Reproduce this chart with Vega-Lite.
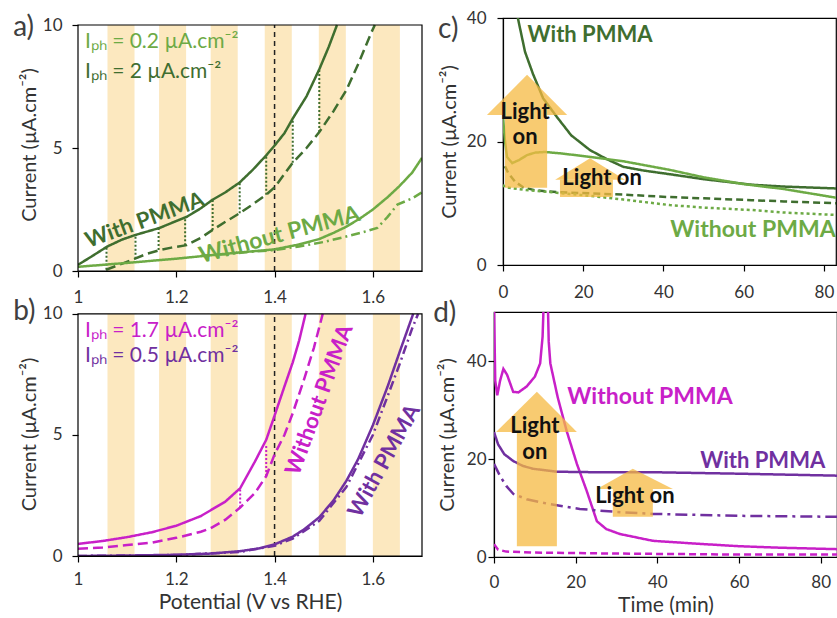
{
"$schema":"https://vega.github.io/schema/vega-lite/v6.json",
"background":"white",
"padding":{"left":13,"top":8,"right":0,"bottom":0},
"spacing":-7,
"config":{
  "font":"Lato",
  "view":{"stroke":"#000","strokeWidth":1.2},
  "axis":{"labelFont":"Lato","labelFontSize":17,"labelColor":"#333","tickColor":"#000","domainColor":"#000","domainWidth":1.2,"tickWidth":1.2,"tickSize":6,"labelPadding":9,"labelFlush":false,"titleFont":"Lato","titleFontSize":20,"titleFontWeight":"normal","titleColor":"#333","grid":false,"titlePadding":4},
  "text":{"font":"Lato"}
},
"datasets":{
  "bands":[{"x":1.06,"x2":1.115,"y":0,"y2":10},{"x":1.165,"x2":1.22,"y":0,"y2":10},{"x":1.27,"x2":1.325,"y":0,"y2":10},{"x":1.38,"x2":1.435,"y":0,"y2":10},{"x":1.49,"x2":1.545,"y":0,"y2":10},{"x":1.6,"x2":1.655,"y":0,"y2":10}],
  "jumps":[
    {"p":"a","x":1.058,"y":0.05,"y2":1.02},{"p":"a","x":1.117,"y":0.5,"y2":1.46},{"p":"a","x":1.164,"y":0.85,"y2":1.75},{"p":"a","x":1.218,"y":1.05,"y2":2.2},{"p":"a","x":1.274,"y":1.67,"y2":2.9},{"p":"a","x":1.329,"y":2.35,"y2":3.6},{"p":"a","x":1.383,"y":3.1,"y2":4.7},{"p":"a","x":1.437,"y":4.4,"y2":6.2},{"p":"a","x":1.491,"y":5.65,"y2":8.2},
    {"p":"b","x":1.33,"y":2.0,"y2":2.8},{"p":"b","x":1.383,"y":3.3,"y2":4.6}
  ],
  "curves":[
    {"p":"a","s":"a_wl","x":1.0,"y":0.25},{"p":"a","s":"a_wl","x":1.03,"y":0.62},{"p":"a","s":"a_wl","x":1.06,"y":1.0},{"p":"a","s":"a_wl","x":1.09,"y":1.28},{"p":"a","s":"a_wl","x":1.116,"y":1.46},{"p":"a","s":"a_wl","x":1.14,"y":1.6},{"p":"a","s":"a_wl","x":1.166,"y":1.75},{"p":"a","s":"a_wl","x":1.19,"y":1.95},{"p":"a","s":"a_wl","x":1.221,"y":2.2},{"p":"a","s":"a_wl","x":1.25,"y":2.55},{"p":"a","s":"a_wl","x":1.274,"y":2.9},{"p":"a","s":"a_wl","x":1.3,"y":3.2},{"p":"a","s":"a_wl","x":1.329,"y":3.6},{"p":"a","s":"a_wl","x":1.355,"y":4.1},{"p":"a","s":"a_wl","x":1.383,"y":4.7},{"p":"a","s":"a_wl","x":1.4,"y":5.1},{"p":"a","s":"a_wl","x":1.42,"y":5.6},{"p":"a","s":"a_wl","x":1.437,"y":6.2},{"p":"a","s":"a_wl","x":1.465,"y":7.1},{"p":"a","s":"a_wl","x":1.491,"y":8.2},{"p":"a","s":"a_wl","x":1.51,"y":9.1},{"p":"a","s":"a_wl","x":1.527,"y":10},
    {"p":"a","s":"a_wd","x":1.057,"y":0.05},{"p":"a","s":"a_wd","x":1.09,"y":0.3},{"p":"a","s":"a_wd","x":1.116,"y":0.5},{"p":"a","s":"a_wd","x":1.14,"y":0.7},{"p":"a","s":"a_wd","x":1.166,"y":0.85},{"p":"a","s":"a_wd","x":1.19,"y":0.95},{"p":"a","s":"a_wd","x":1.221,"y":1.05},{"p":"a","s":"a_wd","x":1.25,"y":1.35},{"p":"a","s":"a_wd","x":1.274,"y":1.67},{"p":"a","s":"a_wd","x":1.3,"y":2.0},{"p":"a","s":"a_wd","x":1.329,"y":2.35},{"p":"a","s":"a_wd","x":1.355,"y":2.7},{"p":"a","s":"a_wd","x":1.383,"y":3.1},{"p":"a","s":"a_wd","x":1.4,"y":3.4},{"p":"a","s":"a_wd","x":1.437,"y":4.4},{"p":"a","s":"a_wd","x":1.465,"y":5.0},{"p":"a","s":"a_wd","x":1.491,"y":5.65},{"p":"a","s":"a_wd","x":1.52,"y":6.5},{"p":"a","s":"a_wd","x":1.546,"y":7.35},{"p":"a","s":"a_wd","x":1.57,"y":8.4},{"p":"a","s":"a_wd","x":1.597,"y":9.7},{"p":"a","s":"a_wd","x":1.604,"y":10},
    {"p":"a","s":"a_ol","x":1.0,"y":0.17},{"p":"a","s":"a_ol","x":1.1,"y":0.33},{"p":"a","s":"a_ol","x":1.2,"y":0.5},{"p":"a","s":"a_ol","x":1.3,"y":0.7},{"p":"a","s":"a_ol","x":1.4,"y":0.88},{"p":"a","s":"a_ol","x":1.45,"y":1.08},{"p":"a","s":"a_ol","x":1.491,"y":1.3},{"p":"a","s":"a_ol","x":1.52,"y":1.55},{"p":"a","s":"a_ol","x":1.546,"y":1.8},{"p":"a","s":"a_ol","x":1.575,"y":2.15},{"p":"a","s":"a_ol","x":1.6,"y":2.5},{"p":"a","s":"a_ol","x":1.63,"y":3.0},{"p":"a","s":"a_ol","x":1.654,"y":3.45},{"p":"a","s":"a_ol","x":1.68,"y":4.0},{"p":"a","s":"a_ol","x":1.7,"y":4.6},
    {"p":"a","s":"a_od","x":1.25,"y":0.62},{"p":"a","s":"a_od","x":1.3,"y":0.68},{"p":"a","s":"a_od","x":1.35,"y":0.78},{"p":"a","s":"a_od","x":1.4,"y":0.85},{"p":"a","s":"a_od","x":1.45,"y":1.0},{"p":"a","s":"a_od","x":1.5,"y":1.18},{"p":"a","s":"a_od","x":1.542,"y":1.38},{"p":"a","s":"a_od","x":1.575,"y":1.55},{"p":"a","s":"a_od","x":1.609,"y":1.75},{"p":"a","s":"a_od","x":1.63,"y":2.2},{"p":"a","s":"a_od","x":1.65,"y":2.7},{"p":"a","s":"a_od","x":1.68,"y":2.95},{"p":"a","s":"a_od","x":1.7,"y":3.2},
    {"p":"b","s":"b_ol","x":1.0,"y":0.5},{"p":"b","s":"b_ol","x":1.05,"y":0.62},{"p":"b","s":"b_ol","x":1.1,"y":0.78},{"p":"b","s":"b_ol","x":1.15,"y":0.98},{"p":"b","s":"b_ol","x":1.2,"y":1.25},{"p":"b","s":"b_ol","x":1.25,"y":1.65},{"p":"b","s":"b_ol","x":1.3,"y":2.25},{"p":"b","s":"b_ol","x":1.33,"y":2.8},{"p":"b","s":"b_ol","x":1.36,"y":3.9},{"p":"b","s":"b_ol","x":1.383,"y":4.8},{"p":"b","s":"b_ol","x":1.4,"y":5.8},{"p":"b","s":"b_ol","x":1.42,"y":7.0},{"p":"b","s":"b_ol","x":1.437,"y":8.0},{"p":"b","s":"b_ol","x":1.45,"y":8.9},{"p":"b","s":"b_ol","x":1.463,"y":10},
    {"p":"b","s":"b_od","x":1.0,"y":0.3},{"p":"b","s":"b_od","x":1.05,"y":0.35},{"p":"b","s":"b_od","x":1.1,"y":0.45},{"p":"b","s":"b_od","x":1.15,"y":0.55},{"p":"b","s":"b_od","x":1.2,"y":0.75},{"p":"b","s":"b_od","x":1.25,"y":1.0},{"p":"b","s":"b_od","x":1.27,"y":1.15},{"p":"b","s":"b_od","x":1.3,"y":1.5},{"p":"b","s":"b_od","x":1.33,"y":2.0},{"p":"b","s":"b_od","x":1.36,"y":2.6},{"p":"b","s":"b_od","x":1.383,"y":3.3},{"p":"b","s":"b_od","x":1.4,"y":4.2},{"p":"b","s":"b_od","x":1.42,"y":5.0},{"p":"b","s":"b_od","x":1.437,"y":5.9},{"p":"b","s":"b_od","x":1.46,"y":7.3},{"p":"b","s":"b_od","x":1.48,"y":8.6},{"p":"b","s":"b_od","x":1.498,"y":10},
    {"p":"b","s":"b_wl","x":1.0,"y":0.0},{"p":"b","s":"b_wl","x":1.1,"y":0.02},{"p":"b","s":"b_wl","x":1.2,"y":0.05},{"p":"b","s":"b_wl","x":1.27,"y":0.1},{"p":"b","s":"b_wl","x":1.33,"y":0.2},{"p":"b","s":"b_wl","x":1.37,"y":0.32},{"p":"b","s":"b_wl","x":1.4,"y":0.48},{"p":"b","s":"b_wl","x":1.437,"y":0.8},{"p":"b","s":"b_wl","x":1.46,"y":1.1},{"p":"b","s":"b_wl","x":1.491,"y":1.6},{"p":"b","s":"b_wl","x":1.52,"y":2.3},{"p":"b","s":"b_wl","x":1.546,"y":3.1},{"p":"b","s":"b_wl","x":1.57,"y":4.0},{"p":"b","s":"b_wl","x":1.6,"y":5.4},{"p":"b","s":"b_wl","x":1.63,"y":7.0},{"p":"b","s":"b_wl","x":1.654,"y":8.4},{"p":"b","s":"b_wl","x":1.675,"y":9.6},{"p":"b","s":"b_wl","x":1.682,"y":10},
    {"p":"b","s":"b_wd","x":1.0,"y":0.0},{"p":"b","s":"b_wd","x":1.2,"y":0.04},{"p":"b","s":"b_wd","x":1.33,"y":0.17},{"p":"b","s":"b_wd","x":1.4,"y":0.42},{"p":"b","s":"b_wd","x":1.437,"y":0.72},{"p":"b","s":"b_wd","x":1.491,"y":1.45},{"p":"b","s":"b_wd","x":1.546,"y":2.85},{"p":"b","s":"b_wd","x":1.6,"y":5.0},{"p":"b","s":"b_wd","x":1.63,"y":6.6},{"p":"b","s":"b_wd","x":1.654,"y":7.9},{"p":"b","s":"b_wd","x":1.68,"y":9.4},{"p":"b","s":"b_wd","x":1.692,"y":10},
    {"p":"c","s":"c_wl","x":0.8,"y":60},{"p":"c","s":"c_wl","x":2.5,"y":45},{"p":"c","s":"c_wl","x":3.7,"y":40},{"p":"c","s":"c_wl","x":5.5,"y":34.5},{"p":"c","s":"c_wl","x":7.5,"y":30.9},{"p":"c","s":"c_wl","x":10,"y":27},{"p":"c","s":"c_wl","x":13.4,"y":24},{"p":"c","s":"c_wl","x":17,"y":21},{"p":"c","s":"c_wl","x":21.7,"y":18.6},{"p":"c","s":"c_wl","x":26,"y":17.1},{"p":"c","s":"c_wl","x":30,"y":15.9},{"p":"c","s":"c_wl","x":35,"y":15.3},{"p":"c","s":"c_wl","x":41.6,"y":14.7},{"p":"c","s":"c_wl","x":50,"y":13.9},{"p":"c","s":"c_wl","x":62,"y":13.0},{"p":"c","s":"c_wl","x":70,"y":12.7},{"p":"c","s":"c_wl","x":83,"y":12.4},
    {"p":"c","s":"c_ol","x":0,"y":24},{"p":"c","s":"c_ol","x":0.5,"y":20},{"p":"c","s":"c_ol","x":1,"y":17.5},{"p":"c","s":"c_ol","x":2.3,"y":16.5},{"p":"c","s":"c_ol","x":4,"y":17},{"p":"c","s":"c_ol","x":6,"y":17.8},{"p":"c","s":"c_ol","x":8,"y":18.2},{"p":"c","s":"c_ol","x":10.5,"y":18.3},{"p":"c","s":"c_ol","x":14,"y":18.1},{"p":"c","s":"c_ol","x":18,"y":17.8},{"p":"c","s":"c_ol","x":21.7,"y":17.5},{"p":"c","s":"c_ol","x":30,"y":16.8},{"p":"c","s":"c_ol","x":41.6,"y":15.4},{"p":"c","s":"c_ol","x":50,"y":14.2},{"p":"c","s":"c_ol","x":60,"y":13.1},{"p":"c","s":"c_ol","x":70,"y":12.3},{"p":"c","s":"c_ol","x":83,"y":10.9},
    {"p":"c","s":"c_wd","x":0.5,"y":16},{"p":"c","s":"c_wd","x":1.3,"y":14.9},{"p":"c","s":"c_wd","x":3,"y":13.5},{"p":"c","s":"c_wd","x":5,"y":12.6},{"p":"c","s":"c_wd","x":8,"y":12.1},{"p":"c","s":"c_wd","x":13.4,"y":11.8},{"p":"c","s":"c_wd","x":21.7,"y":11.6},{"p":"c","s":"c_wd","x":30,"y":11.4},{"p":"c","s":"c_wd","x":41.6,"y":11.0},{"p":"c","s":"c_wd","x":50,"y":10.8},{"p":"c","s":"c_wd","x":62,"y":10.5},{"p":"c","s":"c_wd","x":70,"y":10.3},{"p":"c","s":"c_wd","x":83,"y":10.0},
    {"p":"c","s":"c_od","x":0,"y":13},{"p":"c","s":"c_od","x":0.5,"y":12.6},{"p":"c","s":"c_od","x":5,"y":12.2},{"p":"c","s":"c_od","x":13.4,"y":11.7},{"p":"c","s":"c_od","x":21.7,"y":11.2},{"p":"c","s":"c_od","x":30,"y":10.6},{"p":"c","s":"c_od","x":41.6,"y":9.7},{"p":"c","s":"c_od","x":50,"y":9.3},{"p":"c","s":"c_od","x":62,"y":8.9},{"p":"c","s":"c_od","x":70,"y":8.5},{"p":"c","s":"c_od","x":83,"y":8.1},
    {"p":"d","s":"d_ol","x":0,"y":52},{"p":"d","s":"d_ol","x":0.3,"y":36},{"p":"d","s":"d_ol","x":0.8,"y":33},{"p":"d","s":"d_ol","x":1.5,"y":36},{"p":"d","s":"d_ol","x":2.3,"y":38.4},{"p":"d","s":"d_ol","x":3.2,"y":37.2},{"p":"d","s":"d_ol","x":4.7,"y":33.7},{"p":"d","s":"d_ol","x":6,"y":33.6},{"p":"d","s":"d_ol","x":8,"y":34.8},{"p":"d","s":"d_ol","x":10,"y":36.8},{"p":"d","s":"d_ol","x":11.3,"y":39.5},{"p":"d","s":"d_ol","x":11.9,"y":45},{"p":"d","s":"d_ol","x":12.3,"y":55},{"p":"d","s":"d_ol","x":13.1,"y":55},{"p":"d","s":"d_ol","x":13.4,"y":44},{"p":"d","s":"d_ol","x":13.8,"y":39.5},{"p":"d","s":"d_ol","x":15.6,"y":32.6},{"p":"d","s":"d_ol","x":17.8,"y":25.7},{"p":"d","s":"d_ol","x":20.3,"y":19},{"p":"d","s":"d_ol","x":22.7,"y":13.5},{"p":"d","s":"d_ol","x":25.2,"y":7.3},{"p":"d","s":"d_ol","x":27.5,"y":5.7},{"p":"d","s":"d_ol","x":30.8,"y":4.7},{"p":"d","s":"d_ol","x":38.9,"y":3.3},{"p":"d","s":"d_ol","x":50,"y":2.7},{"p":"d","s":"d_ol","x":60,"y":2.2},{"p":"d","s":"d_ol","x":70,"y":1.9},{"p":"d","s":"d_ol","x":84,"y":1.6},
    {"p":"d","s":"d_wl","x":0,"y":25.5},{"p":"d","s":"d_wl","x":1,"y":23},{"p":"d","s":"d_wl","x":2.5,"y":21},{"p":"d","s":"d_wl","x":4.7,"y":19.6},{"p":"d","s":"d_wl","x":7,"y":18.6},{"p":"d","s":"d_wl","x":9.6,"y":18.0},{"p":"d","s":"d_wl","x":15.4,"y":17.4},{"p":"d","s":"d_wl","x":25,"y":17.3},{"p":"d","s":"d_wl","x":39,"y":17.3},{"p":"d","s":"d_wl","x":60,"y":17.0},{"p":"d","s":"d_wl","x":84,"y":16.6},
    {"p":"d","s":"d_wd","x":0,"y":19},{"p":"d","s":"d_wd","x":1.5,"y":16.5},{"p":"d","s":"d_wd","x":3,"y":14.5},{"p":"d","s":"d_wd","x":4.7,"y":12.9},{"p":"d","s":"d_wd","x":8,"y":11.8},{"p":"d","s":"d_wd","x":13,"y":10.9},{"p":"d","s":"d_wd","x":21,"y":9.8},{"p":"d","s":"d_wd","x":30,"y":9.2},{"p":"d","s":"d_wd","x":39,"y":8.8},{"p":"d","s":"d_wd","x":60,"y":8.4},{"p":"d","s":"d_wd","x":84,"y":8.2},
    {"p":"d","s":"d_od","x":0,"y":2.6},{"p":"d","s":"d_od","x":1,"y":1.5},{"p":"d","s":"d_od","x":3,"y":1.1},{"p":"d","s":"d_od","x":10,"y":0.9},{"p":"d","s":"d_od","x":30,"y":0.7},{"p":"d","s":"d_od","x":60,"y":0.5},{"p":"d","s":"d_od","x":84,"y":0.5}
  ],
  "shafts":[
    {"p":"c","x":0.5,"x2":11,"y":12.5,"y2":24.3},{"p":"c","x":14.2,"x2":27.4,"y":11.0,"y2":13.8},
    {"p":"d","x":5.6,"x2":15.4,"y":2.2,"y2":25.5},{"p":"d","x":29.1,"x2":38.9,"y":8.2,"y2":13.9}
  ],
  "heads":[
    {"p":"c","a":"big","x":-4,"y":24.3,"y0":24.3},{"p":"c","a":"big","x":6,"y":30.8,"y0":24.3},{"p":"c","a":"big","x":16,"y":24.3,"y0":24.3},
    {"p":"c","a":"small","x":13,"y":13.8,"y0":13.8},{"p":"c","a":"small","x":21.7,"y":17.3,"y0":13.8},{"p":"c","a":"small","x":30.4,"y":13.8,"y0":13.8},
    {"p":"d","a":"big","x":0.5,"y":25.5,"y0":25.5},{"p":"d","a":"big","x":10.5,"y":33.7,"y0":25.5},{"p":"d","a":"big","x":20.3,"y":25.5,"y0":25.5},
    {"p":"d","a":"small","x":25.2,"y":13.9,"y0":13.9},{"p":"d","a":"small","x":34,"y":18.0,"y0":13.9},{"p":"d","a":"small","x":43.8,"y":13.9,"y0":13.9}
  ]
},
"vconcat":[
 {"hconcat":[
  {"width":344,"height":253,"view":{"stroke":null},
   "encoding":{"x":{"field":"x","type":"quantitative","scale":{"domain":[1,1.7],"nice":false,"zero":false},"axis":{"values":[1,1.2,1.4,1.6],"format":".2~f","title":null,"labelPadding":12}},
               "y":{"field":"y","type":"quantitative","scale":{"domain":[0,10.285],"nice":false,"zero":false},"axis":{"values":[0,5,10],"title":"Current (µA.cm⁻²)","domain":false,"labelPadding":10,"titlePadding":3}}},
   "layer":[
    {"data":{"name":"bands"},"mark":{"type":"rect","color":"#FCE8BF"},"encoding":{"x2":{"field":"x2"},"y2":{"field":"y2"}}},
    {"data":{"values":[{"x":1.4,"y":0,"y2":10}]},"mark":{"type":"rule","color":"#222","strokeDash":[5,4],"strokeWidth":1.5},"encoding":{"y2":{"field":"y2"}}},
    {"data":{"name":"jumps"},"transform":[{"filter":"datum.p=='a'"}],"mark":{"type":"rule","color":"#3F6E2F","strokeDash":[2,2],"strokeWidth":2},"encoding":{"y2":{"field":"y2"}}},
    {"data":{"name":"curves"},"transform":[{"filter":"datum.p=='a'"}],"mark":{"type":"line","strokeWidth":2.5,"clip":true},
     "encoding":{"color":{"field":"s","type":"nominal","legend":null,"scale":{"domain":["a_wl","a_wd","a_ol","a_od","b_ol","b_od","b_wl","b_wd","c_wl","c_wd","c_ol","c_od","d_ol","d_od","d_wl","d_wd"],"range":["#3F6E2F","#3F6E2F","#6DAA45","#6DAA45","#C820C8","#C820C8","#7030A0","#7030A0","#3F6E2F","#3F6E2F","#6DAA45","#6DAA45","#C820C8","#C820C8","#7030A0","#7030A0"]}},
                 "strokeDash":{"field":"s","type":"nominal","legend":null,"scale":{"domain":["a_wl","a_wd","a_ol","a_od","b_ol","b_od","b_wl","b_wd","c_wl","c_wd","c_ol","c_od","d_ol","d_od","d_wl","d_wd"],"range":[[1,0],[10,5],[1,0],[9,4,2,4],[1,0],[10,5],[1,0],[9,4,2,4],[1,0],[7,4],[1,0],[3,3],[1,0],[7,4],[1,0],[12,5,3,5]]}}}},
    {"data":{"values":[{"x":1,"x2":1.7,"y":0,"y2":10}]},"mark":{"type":"rect","fillOpacity":0,"stroke":"#000","strokeWidth":1.2},"encoding":{"x2":{"field":"x2"},"y2":{"field":"y2"}}},
    {"data":{"values":[{"x":1.014,"y":9.3,"t":"Iₚₕ = 0.2 µA.cm⁻²"}]},"mark":{"type":"text","align":"left","baseline":"middle","fontSize":21,"color":"#6DAA45"},"encoding":{"text":{"field":"t"}}},
    {"data":{"values":[{"x":1.014,"y":8.1,"t":"Iₚₕ = 2 µA.cm⁻²"}]},"mark":{"type":"text","align":"left","baseline":"middle","fontSize":21,"color":"#3F6E2F"},"encoding":{"text":{"field":"t"}}},
    {"data":{"values":[{"x":1.136,"y":2.07,"t":"With PMMA"}]},"mark":{"type":"text","align":"center","baseline":"middle","fontSize":22,"fontWeight":"bold","angle":340,"color":"#3F6E2F"},"encoding":{"text":{"field":"t"}}},
    {"data":{"values":[{"x":1.41,"y":1.46,"t":"Without PMMA"}]},"mark":{"type":"text","align":"center","baseline":"middle","fontSize":23,"fontWeight":"bold","angle":345,"color":"#6DAA45"},"encoding":{"text":{"field":"t"}}},
    {"data":{"values":[{"x":0.868,"y":9.88,"t":"a)"}]},"mark":{"type":"text","align":"left","baseline":"middle","fontSize":28,"color":"#404040"},"encoding":{"text":{"field":"t"}}}
   ]},
  {"width":333,"height":247,
   "encoding":{"x":{"field":"x","type":"quantitative","scale":{"domain":[0,83],"nice":false,"zero":false},"axis":{"values":[0,20,40,60,80],"title":null,"labelPadding":13}},
               "y":{"field":"y","type":"quantitative","scale":{"domain":[0,40],"nice":false,"zero":false},"axis":{"values":[0,20,40],"title":"Current (µA.cm⁻²)","labelPadding":11,"titlePadding":7}}},
   "layer":[
    {"data":{"name":"curves"},"transform":[{"filter":"datum.p=='c'"}],"mark":{"type":"line","strokeWidth":2.5,"clip":true},
     "encoding":{"color":{"field":"s","type":"nominal","legend":null,"scale":{"domain":["a_wl","a_wd","a_ol","a_od","b_ol","b_od","b_wl","b_wd","c_wl","c_wd","c_ol","c_od","d_ol","d_od","d_wl","d_wd"],"range":["#3F6E2F","#3F6E2F","#6DAA45","#6DAA45","#C820C8","#C820C8","#7030A0","#7030A0","#3F6E2F","#3F6E2F","#6DAA45","#6DAA45","#C820C8","#C820C8","#7030A0","#7030A0"]}},
                 "strokeDash":{"field":"s","type":"nominal","legend":null,"scale":{"domain":["a_wl","a_wd","a_ol","a_od","b_ol","b_od","b_wl","b_wd","c_wl","c_wd","c_ol","c_od","d_ol","d_od","d_wl","d_wd"],"range":[[1,0],[10,5],[1,0],[9,4,2,4],[1,0],[10,5],[1,0],[9,4,2,4],[1,0],[7,4],[1,0],[3,3],[1,0],[7,4],[1,0],[12,5,3,5]]}}}},
    {"data":{"name":"shafts"},"transform":[{"filter":"datum.p=='c'"}],"mark":{"type":"rect","color":"#F5B942","opacity":0.75},"encoding":{"x2":{"field":"x2"},"y2":{"field":"y2"}}},
    {"data":{"name":"heads"},"transform":[{"filter":"datum.p=='c'"}],"mark":{"type":"area","color":"#F5B942","opacity":0.75},"encoding":{"y2":{"field":"y0"},"detail":{"field":"a"}}},
    {"data":{"values":[{"x":5.5,"y":24.8,"t":"Light"},{"x":5.5,"y":20.7,"t":"on"},{"x":24.7,"y":14.1,"t":"Light on"}]},"mark":{"type":"text","align":"center","baseline":"middle","fontSize":22,"fontWeight":"bold","color":"#111"},"encoding":{"text":{"field":"t"}}},
    {"data":{"values":[{"x":21.7,"y":37.2,"t":"With PMMA"}]},"mark":{"type":"text","align":"center","baseline":"middle","fontSize":22,"fontWeight":"bold","color":"#3F6E2F"},"encoding":{"text":{"field":"t"}}},
    {"data":{"values":[{"x":62.3,"y":5.7,"t":"Without PMMA"}]},"mark":{"type":"text","align":"center","baseline":"middle","fontSize":23,"fontWeight":"bold","color":"#6DAA45"},"encoding":{"text":{"field":"t"}}},
    {"data":{"values":[{"x":-16.2,"y":38,"t":"c)"}]},"mark":{"type":"text","align":"left","baseline":"middle","fontSize":28,"color":"#404040"},"encoding":{"text":{"field":"t"}}}
   ]}
 ],"spacing":81,"bounds":"flush"},
 {"hconcat":[
  {"width":344,"height":244,"view":{"stroke":null},
   "encoding":{"x":{"field":"x","type":"quantitative","scale":{"domain":[1,1.7],"nice":false,"zero":false},"axis":{"values":[1,1.2,1.4,1.6],"format":".2~f","title":"Potential (V vs RHE)","titleFontSize":21,"titlePadding":4,"labelPadding":9}},
               "y":{"field":"y","type":"quantitative","scale":{"domain":[0,10.08],"nice":false,"zero":false},"axis":{"values":[0,5,10],"title":"Current (µA.cm⁻²)","domain":false,"labelPadding":10,"titlePadding":3}}},
   "layer":[
    {"data":{"name":"bands"},"mark":{"type":"rect","color":"#FCE8BF"},"encoding":{"x2":{"field":"x2"},"y2":{"field":"y2"}}},
    {"data":{"values":[{"x":1.4,"y":0,"y2":10}]},"mark":{"type":"rule","color":"#222","strokeDash":[5,4],"strokeWidth":1.5},"encoding":{"y2":{"field":"y2"}}},
    {"data":{"name":"jumps"},"transform":[{"filter":"datum.p=='b'"}],"mark":{"type":"rule","color":"#C820C8","strokeDash":[2,2],"strokeWidth":2},"encoding":{"y2":{"field":"y2"}}},
    {"data":{"name":"curves"},"transform":[{"filter":"datum.p=='b'"}],"mark":{"type":"line","strokeWidth":2.5,"clip":true},
     "encoding":{"color":{"field":"s","type":"nominal","legend":null,"scale":{"domain":["a_wl","a_wd","a_ol","a_od","b_ol","b_od","b_wl","b_wd","c_wl","c_wd","c_ol","c_od","d_ol","d_od","d_wl","d_wd"],"range":["#3F6E2F","#3F6E2F","#6DAA45","#6DAA45","#C820C8","#C820C8","#7030A0","#7030A0","#3F6E2F","#3F6E2F","#6DAA45","#6DAA45","#C820C8","#C820C8","#7030A0","#7030A0"]}},
                 "strokeDash":{"field":"s","type":"nominal","legend":null,"scale":{"domain":["a_wl","a_wd","a_ol","a_od","b_ol","b_od","b_wl","b_wd","c_wl","c_wd","c_ol","c_od","d_ol","d_od","d_wl","d_wd"],"range":[[1,0],[10,5],[1,0],[9,4,2,4],[1,0],[10,5],[1,0],[9,4,2,4],[1,0],[7,4],[1,0],[3,3],[1,0],[7,4],[1,0],[12,5,3,5]]}}}},
    {"data":{"values":[{"x":1,"x2":1.7,"y":0,"y2":10}]},"mark":{"type":"rect","fillOpacity":0,"stroke":"#000","strokeWidth":1.2},"encoding":{"x2":{"field":"x2"},"y2":{"field":"y2"}}},
    {"data":{"values":[{"x":1.014,"y":9.3,"t":"Iₚₕ = 1.7 µA.cm⁻²"}]},"mark":{"type":"text","align":"left","baseline":"middle","fontSize":21,"color":"#C820C8"},"encoding":{"text":{"field":"t"}}},
    {"data":{"values":[{"x":1.014,"y":8.26,"t":"Iₚₕ = 0.5 µA.cm⁻²"}]},"mark":{"type":"text","align":"left","baseline":"middle","fontSize":21,"color":"#7030A0"},"encoding":{"text":{"field":"t"}}},
    {"data":{"values":[{"x":1.491,"y":6.45,"t":"Without PMMA"}]},"mark":{"type":"text","align":"center","baseline":"middle","fontSize":22,"fontWeight":"bold","angle":290,"color":"#C820C8"},"encoding":{"text":{"field":"t"}}},
    {"data":{"values":[{"x":1.623,"y":3.93,"t":"With PMMA"}]},"mark":{"type":"text","align":"center","baseline":"middle","fontSize":22,"fontWeight":"bold","angle":299,"color":"#7030A0"},"encoding":{"text":{"field":"t"}}},
    {"data":{"values":[{"x":0.868,"y":10.08,"t":"b)"}]},"mark":{"type":"text","align":"left","baseline":"middle","fontSize":28,"color":"#404040"},"encoding":{"text":{"field":"t"}}}
   ]},
  {"width":343,"height":245,
   "encoding":{"x":{"field":"x","type":"quantitative","scale":{"domain":[0,84],"nice":false,"zero":false},"axis":{"values":[0,20,40,60,80],"title":"Time (min)","titleFontSize":21,"titlePadding":4,"labelPadding":11}},
               "y":{"field":"y","type":"quantitative","scale":{"domain":[0,50],"nice":false,"zero":false},"axis":{"values":[0,20,40],"title":"Current (µA.cm⁻²)","labelPadding":2,"titlePadding":9}}},
   "layer":[
    {"data":{"name":"curves"},"transform":[{"filter":"datum.p=='d'"}],"mark":{"type":"line","strokeWidth":2.5,"clip":true},
     "encoding":{"color":{"field":"s","type":"nominal","legend":null,"scale":{"domain":["a_wl","a_wd","a_ol","a_od","b_ol","b_od","b_wl","b_wd","c_wl","c_wd","c_ol","c_od","d_ol","d_od","d_wl","d_wd"],"range":["#3F6E2F","#3F6E2F","#6DAA45","#6DAA45","#C820C8","#C820C8","#7030A0","#7030A0","#3F6E2F","#3F6E2F","#6DAA45","#6DAA45","#C820C8","#C820C8","#7030A0","#7030A0"]}},
                 "strokeDash":{"field":"s","type":"nominal","legend":null,"scale":{"domain":["a_wl","a_wd","a_ol","a_od","b_ol","b_od","b_wl","b_wd","c_wl","c_wd","c_ol","c_od","d_ol","d_od","d_wl","d_wd"],"range":[[1,0],[10,5],[1,0],[9,4,2,4],[1,0],[10,5],[1,0],[9,4,2,4],[1,0],[7,4],[1,0],[3,3],[1,0],[7,4],[1,0],[12,5,3,5]]}}}},
    {"data":{"name":"shafts"},"transform":[{"filter":"datum.p=='d'"}],"mark":{"type":"rect","color":"#F5B942","opacity":0.75},"encoding":{"x2":{"field":"x2"},"y2":{"field":"y2"}}},
    {"data":{"name":"heads"},"transform":[{"filter":"datum.p=='d'"}],"mark":{"type":"area","color":"#F5B942","opacity":0.75},"encoding":{"y2":{"field":"y0"},"detail":{"field":"a"}}},
    {"data":{"values":[{"x":10,"y":26.7,"t":"Light"},{"x":10,"y":21.4,"t":"on"},{"x":34.5,"y":12.4,"t":"Light on"}]},"mark":{"type":"text","align":"center","baseline":"middle","fontSize":22,"fontWeight":"bold","color":"#111"},"encoding":{"text":{"field":"t"}}},
    {"data":{"values":[{"x":38.2,"y":32.7,"t":"Without PMMA"}]},"mark":{"type":"text","align":"center","baseline":"middle","fontSize":23,"fontWeight":"bold","color":"#C820C8"},"encoding":{"text":{"field":"t"}}},
    {"data":{"values":[{"x":65.8,"y":19.6,"t":"With PMMA"}]},"mark":{"type":"text","align":"center","baseline":"middle","fontSize":22,"fontWeight":"bold","color":"#7030A0"},"encoding":{"text":{"field":"t"}}},
    {"data":{"values":[{"x":-14.9,"y":49.6,"t":"d)"}]},"mark":{"type":"text","align":"left","baseline":"middle","fontSize":28,"color":"#404040"},"encoding":{"text":{"field":"t"}}}
   ]}
 ],"spacing":72,"bounds":"flush"}
]
}
